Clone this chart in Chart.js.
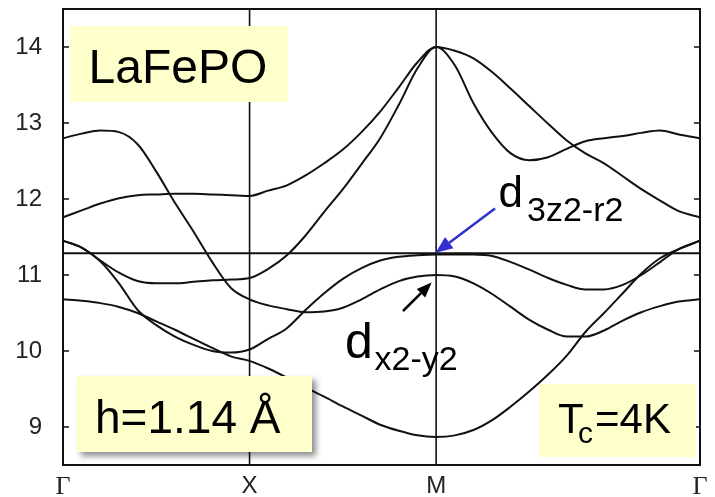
<!DOCTYPE html>
<html>
<head>
<meta charset="utf-8">
<script src="https://cdn.jsdelivr.net/npm/chart.js@4.4.1/dist/chart.umd.min.js"></script>
<style>
  html, body { margin: 0; padding: 0; background: #fff; }
</style>
</head>
<body>
<canvas id="bands" width="715" height="497"></canvas>
<script>
// Path Γ–X–M–Γ, distance measured in units of |Γ–X|
const SQ2 = Math.SQRT2;
const kTicks = [0, 1, 2, 2 + SQ2];
const kLabels = ['Γ', 'X', 'M', 'Γ'];
const eTicks = [9, 10, 11, 12, 13, 14];
const fermiLevel = 11.285;

// sampling points along the path
const kGrid = [
  0, 0.1, 0.2, 0.3, 0.4, 0.5, 0.6, 0.7, 0.8, 0.9, 1.0,
  1.1, 1.2, 1.3, 1.4, 1.5, 1.6, 1.7, 1.8, 1.9, 2.0,
  2.1, 2.2, 2.3, 2.4, 2.5, 2.6, 2.7, 2.8, 2.9, 3.0, 3.1, 3.2, 3.3, 2 + SQ2
];

// band energies (eV) at each kGrid point
const band1 = [
  12.80, 12.86, 12.90, 12.88, 12.72, 12.36, 11.95, 11.57, 11.17, 10.83, 10.68,
  10.60, 10.55, 10.51, 10.52, 10.57, 10.68, 10.81, 10.92, 10.98, 11.00,
  10.98, 10.89, 10.75, 10.58, 10.41, 10.28, 10.19, 10.19, 10.27, 10.40, 10.51, 10.59, 10.65, 10.68
];
const band2 = [
  11.76, 11.85, 11.94, 12.01, 12.05, 12.06, 12.07, 12.07, 12.06, 12.05, 12.04,
  12.11, 12.18, 12.31, 12.47, 12.65, 12.88, 13.15, 13.47, 13.80, 14.00,
  13.95, 13.85, 13.67, 13.45, 13.22, 12.99, 12.77, 12.60, 12.47, 12.30, 12.13, 11.98, 11.84, 11.76
];
const band3 = [
  11.45, 11.36, 11.19, 11.03, 10.92, 10.89, 10.89, 10.91, 10.93, 10.94, 10.96,
  11.08, 11.26, 11.52, 11.83, 12.13, 12.46, 12.80, 13.24, 13.72, 14.00,
  13.76, 13.26, 12.87, 12.60, 12.51, 12.55, 12.66, 12.76, 12.80, 12.83, 12.87, 12.90, 12.85, 12.80
];
const band4 = [
  11.45, 11.36, 11.18, 10.89, 10.54, 10.34, 10.19, 10.08, 10.00, 9.98, 10.02,
  10.16, 10.30, 10.54, 10.76, 10.95, 11.09, 11.19, 11.24, 11.26, 11.27,
  11.27, 11.27, 11.25, 11.17, 11.07, 10.96, 10.87, 10.81, 10.81, 10.87, 11.00, 11.17, 11.34, 11.45
];
const band5 = [
  10.68, 10.66, 10.63, 10.58, 10.50, 10.39, 10.28, 10.16, 10.04, 9.93, 9.87,
  9.77, 9.65, 9.52, 9.40, 9.27, 9.15, 9.03, 8.95, 8.89, 8.87,
  8.89, 8.96, 9.09, 9.27, 9.47, 9.69, 9.94, 10.25, 10.50, 10.76, 11.02, 11.22, 11.34, 11.45
];
const bands = [band1, band2, band3, band4, band5];

const E_MIN = 8.5, E_MAX = 14.5;
const SANS = '"Liberation Sans", Arial, sans-serif';

const bandSets = bands.map(b => ({
  data: kGrid.map((k, i) => ({ x: k, y: b[i] })),
  borderColor: '#111',
  borderWidth: 2,
  pointRadius: 0,
  fill: false,
  cubicInterpolationMode: 'monotone'
}));

const straight = (pts, w) => ({
  data: pts, borderColor: '#111', borderWidth: w, pointRadius: 0, fill: false, tension: 0
});

const guideSets = [
  straight([{ x: kTicks[0], y: fermiLevel }, { x: kTicks[3], y: fermiLevel }], 2),
  straight([{ x: kTicks[1], y: E_MIN }, { x: kTicks[1], y: E_MAX }], 1.6),
  straight([{ x: kTicks[2], y: E_MIN }, { x: kTicks[2], y: E_MAX }], 1.6)
];

function arrow(ctx, x0, y0, x1, y1, color, headLen, headW) {
  const ang = Math.atan2(y1 - y0, x1 - x0);
  const bx = x1 - headLen * Math.cos(ang), by = y1 - headLen * Math.sin(ang);
  ctx.strokeStyle = color; ctx.fillStyle = color; ctx.lineWidth = 2.5;
  ctx.beginPath(); ctx.moveTo(x0, y0); ctx.lineTo(bx, by); ctx.stroke();
  ctx.beginPath();
  ctx.moveTo(x1, y1);
  ctx.lineTo(bx + headW / 2 * Math.sin(ang), by - headW / 2 * Math.cos(ang));
  ctx.lineTo(bx - headW / 2 * Math.sin(ang), by + headW / 2 * Math.cos(ang));
  ctx.closePath(); ctx.fill();
}

function noteBox(ctx, x0, y0, x1, y1, shadow) {
  ctx.save();
  if (shadow) {
    ctx.shadowColor = 'rgba(0,0,0,0.45)';
    ctx.shadowBlur = 6; ctx.shadowOffsetX = 4; ctx.shadowOffsetY = 4;
  }
  ctx.fillStyle = '#ffffcc';
  ctx.fillRect(x0, y0, x1 - x0, y1 - y0);
  ctx.restore();
}

const overlay = {
  id: 'overlay',
  afterDatasetsDraw(chart) {
    const { ctx, chartArea: a, scales: { x, y } } = chart;
    ctx.save();

    // frame and inward ticks on both energy axes
    ctx.strokeStyle = '#111';
    ctx.lineWidth = 2;
    ctx.strokeRect(a.left, a.top, a.right - a.left, a.bottom - a.top);
    ctx.lineWidth = 1.5;
    eTicks.forEach(v => {
      const py = y.getPixelForValue(v);
      ctx.beginPath();
      ctx.moveTo(a.left, py); ctx.lineTo(a.left + 6, py);
      ctx.moveTo(a.right, py); ctx.lineTo(a.right - 6, py);
      ctx.stroke();
    });

    // note boxes
    noteBox(ctx, 70, 26, 288, 102, false);
    noteBox(ctx, 77, 376, 312, 452, true);
    noteBox(ctx, 539, 384, 696, 457, false);

    ctx.fillStyle = '#000';
    ctx.textBaseline = 'alphabetic';
    ctx.textAlign = 'left';
    ctx.font = '48px ' + SANS;
    ctx.fillText('LaFePO', 88.5, 83);

    ctx.font = '46px ' + SANS;
    ctx.fillText('h=1.14 Å', 95, 433);

    ctx.font = '42px ' + SANS;
    ctx.fillText('T', 558, 433);
    ctx.font = '30px ' + SANS;
    ctx.fillText('c', 578, 443);
    ctx.font = '42px ' + SANS;
    ctx.fillText('=4K', 595, 433);

    // orbital labels
    ctx.font = '44px ' + SANS;
    ctx.fillText('d', 498.5, 207);
    ctx.font = '34px ' + SANS;
    ctx.fillText('3z2-r2', 527, 221);

    ctx.font = '50px ' + SANS;
    ctx.fillText('d', 345, 358);
    ctx.font = '34px ' + SANS;
    ctx.fillText('x2-y2', 374.5, 370);

    // arrows pointing at the M-point states
    const mX = x.getPixelForValue(kTicks[2]);
    arrow(ctx, 495, 208.5, mX - 0.5, y.getPixelForValue(fermiLevel) - 0.5, '#3030d0', 17, 14);
    arrow(ctx, 403, 311, mX - 4.5, y.getPixelForValue(10.9), '#000', 15, 12);

    ctx.restore();
  }
};

new Chart(document.getElementById('bands'), {
  type: 'line',
  data: { datasets: [...bandSets, ...guideSets] },
  options: {
    responsive: false,
    animation: false,
    events: [],
    layout: { padding: { left: 0, right: 15, top: 9, bottom: 0 } },
    plugins: { legend: { display: false }, tooltip: { enabled: false } },
    scales: {
      x: {
        type: 'linear',
        min: kTicks[0],
        max: kTicks[3],
        grid: { display: false },
        border: { display: false },
        afterBuildTicks: s => { s.ticks = kTicks.map(v => ({ value: v })); },
        afterFit: s => { s.height = 32; s.paddingLeft = 0; s.paddingRight = 0; },
        ticks: {
          autoSkip: false,
          maxRotation: 0,
          padding: 1,
          color: '#222',
          callback: (v, i) => kLabels[i],
          font: c => kLabels[c.index] === 'Γ'
            ? { family: '"Liberation Serif", serif', size: 26, lineHeight: 1 }
            : { family: SANS, size: 24, lineHeight: 1 }
        }
      },
      y: {
        min: E_MIN,
        max: E_MAX,
        grid: { display: false },
        border: { display: false },
        afterBuildTicks: s => { s.ticks = eTicks.map(v => ({ value: v })); },
        afterFit: s => { s.width = 63; s.paddingTop = 0; s.paddingBottom = 0; },
        ticks: {
          padding: 13,
          color: '#222',
          font: { family: SANS, size: 24 }
        }
      }
    }
  },
  plugins: [overlay]
});
</script>
</body>
</html>
